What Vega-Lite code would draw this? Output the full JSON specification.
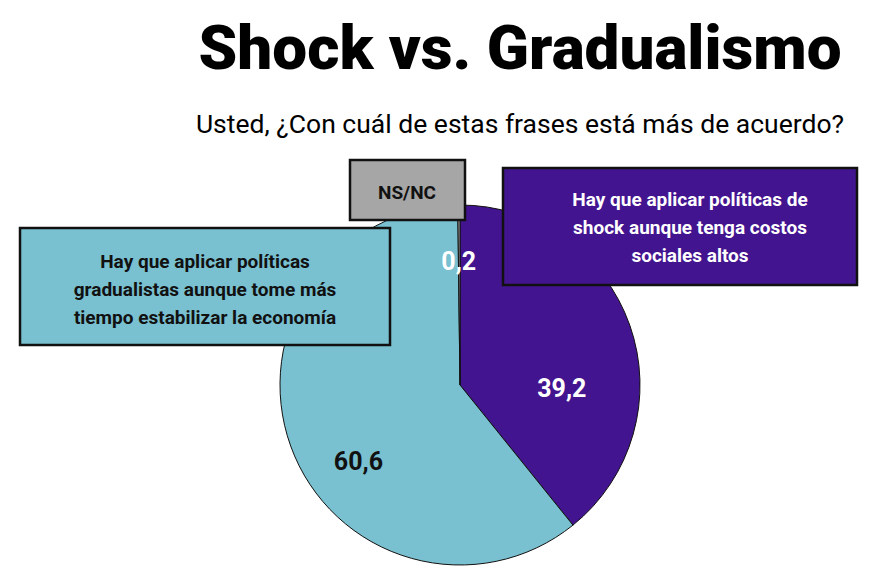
{
  "$schema": "https://vega.github.io/schema/vega-lite/v6.json",
  "description": "Shock vs. Gradualismo",
  "autosize": "none",
  "padding": {"left": 33, "top": 186, "right": 0, "bottom": 0},
  "width": 854,
  "height": 398,
  "background": "white",
  "title": {
    "text": "Shock vs. Gradualismo",
    "subtitle": "Usted, ¿Con cuál de estas frases está más de acuerdo?",
    "anchor": "middle",
    "dx": 60,
    "offset": 19,
    "font": "Roboto",
    "fontSize": 62,
    "fontWeight": 900,
    "color": "black",
    "subtitleFont": "Roboto",
    "subtitleFontSize": 26.5,
    "subtitleColor": "black",
    "subtitlePadding": 30
  },
  "data": {
    "values": [
      {"categoria": "Shock", "orden": 1, "valor": 39.2, "frase": "Hay que aplicar políticas de\nshock aunque tenga costos\nsociales altos"},
      {"categoria": "Gradualismo", "orden": 2, "valor": 60.6, "frase": "Hay que aplicar políticas\ngradualistas aunque tome más\ntiempo estabilizar la economía"},
      {"categoria": "NS/NC", "orden": 3, "valor": 0.2, "frase": "NS/NC"}
    ]
  },
  "encoding": {
    "theta": {"field": "valor", "type": "quantitative", "stack": true},
    "order": {"field": "orden", "type": "quantitative"},
    "color": {
      "field": "categoria",
      "type": "nominal",
      "scale": {
        "domain": ["Shock", "Gradualismo", "NS/NC"],
        "range": ["#43148f", "#79c0d0", "#a6a6a6"]
      },
      "legend": null
    }
  },
  "layer": [
    {
      "mark": {"type": "arc", "outerRadius": 180, "stroke": "#111111", "strokeWidth": 1}
    },
    {
      "transform": [{"filter": "datum.valor > 1"}],
      "mark": {"type": "text", "radius": 108, "dy": 40, "font": "Roboto", "fontSize": 25, "fontWeight": "bold"},
      "encoding": {
        "text": {"field": "valor", "type": "quantitative", "format": ".1f"},
        "color": {
          "condition": {"test": "datum.categoria === 'Gradualismo'", "value": "#111111"},
          "value": "white"
        }
      }
    },
    {
      "transform": [{"filter": "datum.valor <= 1"}],
      "mark": {"type": "text", "radius": 123, "dx": -2, "font": "Roboto", "fontSize": 25, "fontWeight": "bold", "color": "white"},
      "encoding": {
        "text": {"field": "valor", "type": "quantitative", "format": ".1f"},
        "color": {"value": "white"}
      }
    },
    {
      "transform": [{"filter": "datum.categoria === 'Gradualismo'"}],
      "mark": {"type": "rect", "x": -13, "x2": 357, "y": 42, "y2": 159, "stroke": "#111111", "strokeWidth": 2.5},
      "encoding": {"theta": null, "order": null}
    },
    {
      "transform": [{"filter": "datum.categoria === 'Shock'"}],
      "mark": {"type": "rect", "x": 470, "x2": 824, "y": -18, "y2": 99, "stroke": "#111111", "strokeWidth": 2.5},
      "encoding": {"theta": null, "order": null}
    },
    {
      "transform": [{"filter": "datum.categoria === 'NS/NC'"}],
      "mark": {"type": "rect", "x": 317, "x2": 432, "y": -26, "y2": 34, "stroke": "#111111", "strokeWidth": 2.5},
      "encoding": {"theta": null, "order": null}
    },
    {
      "transform": [{"filter": "datum.categoria === 'Gradualismo'"}],
      "mark": {"type": "text", "x": 172, "y": 76, "lineBreak": "\n", "lineHeight": 28, "font": "Roboto", "fontSize": 19, "fontWeight": "bold", "color": "#111111"},
      "encoding": {"theta": null, "order": null, "color": null, "text": {"field": "frase"}}
    },
    {
      "transform": [{"filter": "datum.categoria === 'Shock'"}],
      "mark": {"type": "text", "x": 657, "y": 14, "lineBreak": "\n", "lineHeight": 28, "font": "Roboto", "fontSize": 19, "fontWeight": "bold", "color": "white"},
      "encoding": {"theta": null, "order": null, "color": null, "text": {"field": "frase"}}
    },
    {
      "transform": [{"filter": "datum.categoria === 'NS/NC'"}],
      "mark": {"type": "text", "x": 374, "y": 7, "font": "Roboto", "fontSize": 19, "fontWeight": "bold", "color": "#111111"},
      "encoding": {"theta": null, "order": null, "color": null, "text": {"field": "frase"}}
    }
  ],
  "config": {
    "view": {"stroke": null},
    "locale": {
      "number": {"decimal": ",", "thousands": ".", "grouping": [3], "currency": ["$", ""]}
    }
  }
}
